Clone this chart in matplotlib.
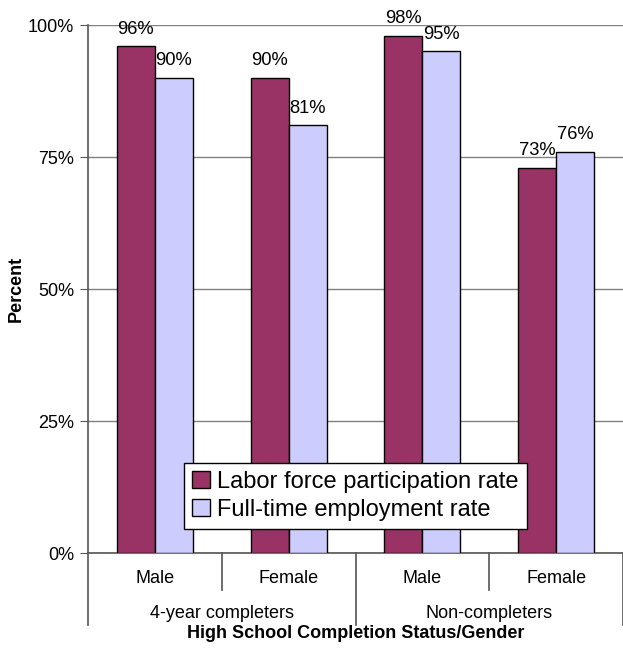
import matplotlib.pyplot as plt
from matplotlib.transforms import blended_transform_factory

plt.rcParams['font.family'] = ['Liberation Sans', 'DejaVu Sans']

# data
categories = ["Male", "Female", "Male", "Female"]
groups = ["4-year completers", "Non-completers"]
labor_force = [96, 90, 98, 73]
full_time = [90, 81, 95, 76]
series_names = ["Labor force participation rate", "Full-time employment rate"]

maroon = "#993366"
lavender = "#CCCCFF"

fig = plt.figure(figsize=(6.23, 6.48), dpi=100)
ax = fig.add_axes([88 / 623, 1 - 553 / 648, 535 / 623, 528 / 648])

x = list(range(len(categories)))
w = 0.285
b1 = ax.bar([i - w / 2 for i in x], labor_force, w, color=maroon,
            edgecolor="black", linewidth=1, label=series_names[0], zorder=3)
b2 = ax.bar([i + w / 2 for i in x], full_time, w, color=lavender,
            edgecolor="black", linewidth=1, label=series_names[1], zorder=3)

for bars, vals in ((b1, labor_force), (b2, full_time)):
    for r, v in zip(bars, vals):
        ax.annotate(f"{v}%", (r.get_x() + r.get_width() / 2, v),
                    xytext=(0, 6), textcoords="offset points",
                    ha="center", va="bottom", fontsize=13.2)

ax.set_xlim(-0.5, len(categories) - 0.5)
ax.set_ylim(0, 100)
ax.set_yticks([0, 25, 50, 75, 100])
ax.set_yticklabels(["0%", "25%", "50%", "75%", "100%"], fontsize=13)
ax.tick_params(axis="y", length=6, color="#555555", pad=4)
ax.yaxis.grid(True, color="#808080", linewidth=1, zorder=0)
ax.set_xticks([])

for s in ("top", "right"):
    ax.spines[s].set_visible(False)
ax.spines["left"].set_color("#555555")
ax.spines["bottom"].set_color("#555555")
ax.spines["left"].set_linewidth(1.2)
ax.spines["bottom"].set_linewidth(1.2)

ax.set_ylabel("Percent", fontsize=13, fontweight="bold", va="center")
ax.yaxis.set_label_coords(-0.135, 0.5)

# two-level category axis
tr = blended_transform_factory(ax.transData, ax.transAxes)
for i, c in enumerate(categories):
    ax.text(i, -0.049, c, transform=tr, ha="center", va="center", fontsize=13)
for g, name in enumerate(groups):
    ax.text(2 * g + 0.5, -0.114, name, transform=tr, ha="center",
            va="center", fontsize=13)
for i in range(len(categories) + 1):
    edge = i - 0.5
    low = -0.136 if i % 2 == 0 else -0.07
    ax.plot([edge, edge], [0, low], transform=tr, color="#555555",
            linewidth=1.2, clip_on=False)

fig.text(355.5 / 623, 1 - 634 / 648, "High School Completion Status/Gender",
         ha="center", va="center", fontsize=13, fontweight="bold")

leg = ax.legend(loc="lower left", bbox_to_anchor=(0.179, 0.045),
                borderaxespad=0, fancybox=False, fontsize=17,
                handlelength=0.75, handleheight=0.75, handletextpad=0.3,
                labelspacing=0.25, borderpad=0.35, framealpha=1)
leg.get_frame().set_edgecolor("black")
leg.get_frame().set_linewidth(1)
leg.set_zorder(5)

fig.savefig("out.png", dpi=100)
